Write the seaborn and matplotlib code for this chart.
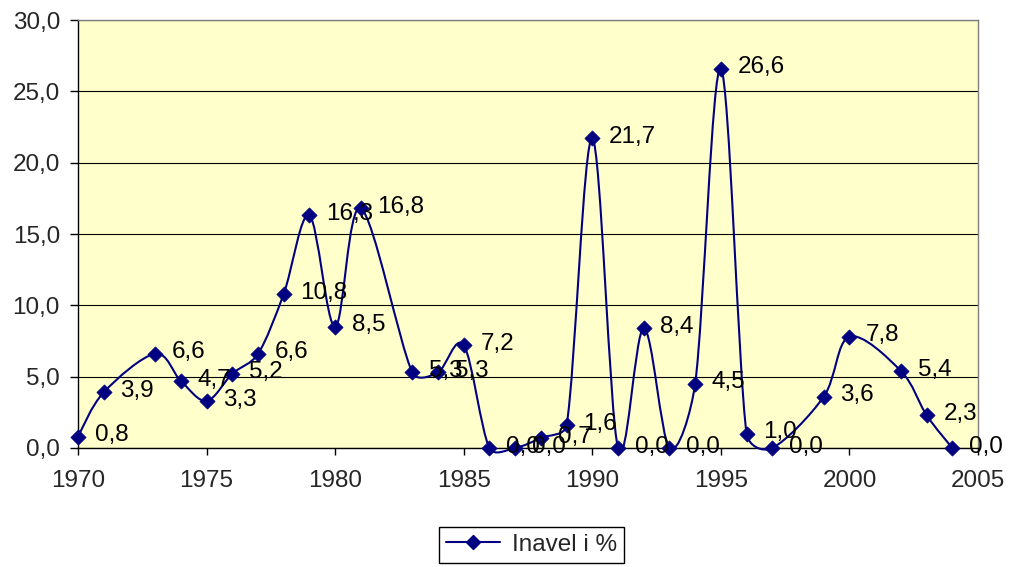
import numpy as np
import pandas as pd
import matplotlib
matplotlib.use('Agg')
import matplotlib.pyplot as plt
import seaborn as sns
from matplotlib.path import Path
from matplotlib.patches import PathPatch
from matplotlib.lines import Line2D
from matplotlib.ticker import FuncFormatter

# Inflation per year
years = [1970, 1971, 1973, 1974, 1975, 1976, 1977, 1978, 1979, 1980, 1981,
         1983, 1984, 1985, 1986, 1987, 1988, 1989, 1990, 1991, 1992, 1993,
         1994, 1995, 1996, 1997, 1999, 2000, 2002, 2003, 2004]
inflation = [0.8, 3.9, 6.6, 4.7, 3.3, 5.2, 6.6, 10.8, 16.3, 8.5, 16.8,
             5.3, 5.3, 7.2, 0.0, 0.0, 0.7, 1.6, 21.7, 0.0, 8.4, 0.0,
             4.5, 26.6, 1.0, 0.0, 3.6, 7.8, 5.4, 2.3, 0.0]
series_name = 'Inavel i %'
x_ticks = [1970, 1975, 1980, 1985, 1990, 1995, 2000, 2005]
y_ticks = [0, 5, 10, 15, 20, 25, 30]

df = pd.DataFrame({'year': years, 'value': inflation})

sns.set_theme(style='white')
plt.rcParams['font.family'] = ['Liberation Sans', 'DejaVu Sans']

navy = '#000080'
fs = 17.5

fig = plt.figure(figsize=(10.09, 5.67), dpi=100)
ax = fig.add_axes([0.0773, 0.2099, 0.892, 0.7548])
ax.set_facecolor('#FFFFCC')
ax.set_xlim(1970, 2005)
ax.set_ylim(0, 30)

# smoothed line, Excel style: Catmull-Rom bezier in screen space,
# control handles capped relative to the segment length
pts = ax.transData.transform(np.column_stack([df['year'], df['value']]).astype(float))
n = len(pts)
verts = [pts[0]]
codes = [Path.MOVETO]
k = 0.4


def cap(h, seg):
    L = np.hypot(*h)
    return h * (seg * k / L) if L > seg * k else h


for i in range(n - 1):
    a = pts[i - 1] if i > 0 else pts[i]
    b = pts[i]
    c = pts[i + 1]
    d = pts[i + 2] if i + 2 < n else pts[i + 1]
    seg = np.hypot(*(c - b))
    c1 = b + cap((c - a) / 6, seg)
    c2 = c - cap((d - b) / 6, seg)
    verts += [c1, c2, c]
    codes += [Path.CURVE4] * 3
verts = ax.transData.inverted().transform(np.array(verts))
ax.add_patch(PathPatch(Path(verts, codes), facecolor='none',
                       edgecolor=navy, lw=1.5, zorder=3, clip_on=False))

sns.scatterplot(data=df, x='year', y='value', marker='D', s=60,
                color=navy, edgecolor=navy, linewidth=0.5, ax=ax,
                zorder=4, clip_on=False, legend=False)

for xv, yv in zip(years, inflation):
    ax.annotate(f'{yv:.1f}'.replace('.', ','), (xv, yv), xytext=(12, 1),
                textcoords='offset points', va='center', ha='left',
                fontsize=fs, color='black', zorder=5, annotation_clip=False)

ax.set_xticks(x_ticks)
ax.set_yticks(y_ticks)
ax.yaxis.set_major_formatter(FuncFormatter(lambda v, p: f'{v:.1f}'.replace('.', ',')))
ax.set_xlabel('')
ax.set_ylabel('')
ax.grid(axis='y', color='black', lw=0.8)
ax.grid(axis='x', visible=False)
ax.set_axisbelow(True)

for s in ['top', 'right']:
    ax.spines[s].set_color('#808080')
    ax.spines[s].set_linewidth(1)
for s in ['left', 'bottom']:
    ax.spines[s].set_color('black')
    ax.spines[s].set_linewidth(1)

ax.tick_params(axis='x', direction='out', length=5, width=1, color='black',
               pad=11, labelsize=fs, bottom=True)
ax.tick_params(axis='y', direction='out', length=6, width=1, color='black',
               pad=7, labelsize=fs, left=True)

handle = Line2D([], [], color=navy, marker='D', markersize=7.5, lw=1.5)
leg = fig.legend([handle], [series_name], loc='center',
                 bbox_to_anchor=(0.527, 0.039), frameon=True, fancybox=False,
                 edgecolor='black', framealpha=1, fontsize=fs,
                 handlelength=2.2, handletextpad=0.5, borderpad=0.3)
leg.get_frame().set_linewidth(1)

fig.savefig('out.png', dpi=100)
